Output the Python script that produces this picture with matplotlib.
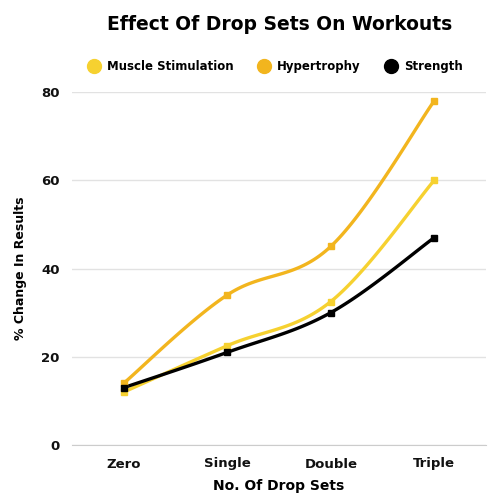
import numpy as np
import matplotlib
matplotlib.use("Agg")
import matplotlib.pyplot as plt
from matplotlib.lines import Line2D

categories = ["Zero", "Single", "Double", "Triple"]
muscle_stimulation = [12, 22.5, 32.5, 60]
hypertrophy = [14, 34, 45, 78]
strength = [13, 21, 30, 47]
yticks = [0, 20, 40, 60, 80]

series = [
    ("Muscle Stimulation", muscle_stimulation, "#F6D130"),
    ("Hypertrophy", hypertrophy, "#F2B51E"),
    ("Strength", strength, "#000000"),
]

plt.rcParams['font.family'] = ['DejaVu Sans']


def smooth(x, y, n=40, t=0.35):
    x = np.asarray(x, float); y = np.asarray(y, float)
    xs, ys = [], []
    for i in range(len(x) - 1):
        p0 = np.array([x[max(i - 1, 0)], y[max(i - 1, 0)]])
        p1 = np.array([x[i], y[i]])
        p2 = np.array([x[i + 1], y[i + 1]])
        p3 = np.array([x[min(i + 2, len(x) - 1)], y[min(i + 2, len(x) - 1)]])
        c1 = p1 + (p2 - p0) * t / 2
        c2 = p2 - (p3 - p1) * t / 2
        s = np.linspace(0, 1, n)[:, None]
        pts = ((1 - s) ** 3) * p1 + 3 * ((1 - s) ** 2) * s * c1 + 3 * (1 - s) * s ** 2 * c2 + s ** 3 * p2
        xs.extend(pts[:, 0]); ys.extend(pts[:, 1])
    return np.array(xs), np.array(ys)


fig = plt.figure(figsize=(5, 5), dpi=100)
ax = fig.add_axes([0.144, 0.11, 0.828, 0.706])
x = np.arange(len(categories))
for name, vals, col in series:
    sx, sy = smooth(x, vals)
    ax.plot(sx, sy, color=col, lw=2.4, zorder=3 if col == "#000000" else 2)
    ax.plot(x, vals, ls="none", marker="s", ms=5, color=col, zorder=4)

ax.set_xlim(-0.5, 3.5)
ax.set_ylim(0, 80)
ax.set_yticks(yticks)
ax.set_xticks(x)
ax.set_xticklabels(categories)
for lbl in ax.get_xticklabels() + ax.get_yticklabels():
    lbl.set_fontsize(9.5)
    lbl.set_fontweight("bold")
ax.tick_params(length=0, pad=9, colors="#111111")
ax.grid(axis="y", color="#e2e2e2", lw=1)
ax.set_axisbelow(True)
for s in ["top", "right", "left"]:
    ax.spines[s].set_visible(False)
ax.spines["bottom"].set_color("#cccccc")
ax.set_xlabel("No. Of Drop Sets", fontsize=10, fontweight="bold", labelpad=6)
ax.set_ylabel("% Change In Results", fontsize=9, fontweight="bold", labelpad=10)

fig.text(0.56, 0.952, "Effect Of Drop Sets On Workouts", ha="center", va="center",
         fontsize=13.5, fontweight="bold")

handles = [Line2D([], [], ls="none", marker="o", ms=10, color=c) for _, _, c in series]
leg = fig.legend(handles, [n for n, _, _ in series], ncol=3, loc="center",
                 bbox_to_anchor=(0.55, 0.867), frameon=False, handletextpad=0.5,
                 handlelength=1.2, columnspacing=2.0, prop=dict(size=8.5, weight="bold"))

fig.savefig("out.png", dpi=100, facecolor="white")
